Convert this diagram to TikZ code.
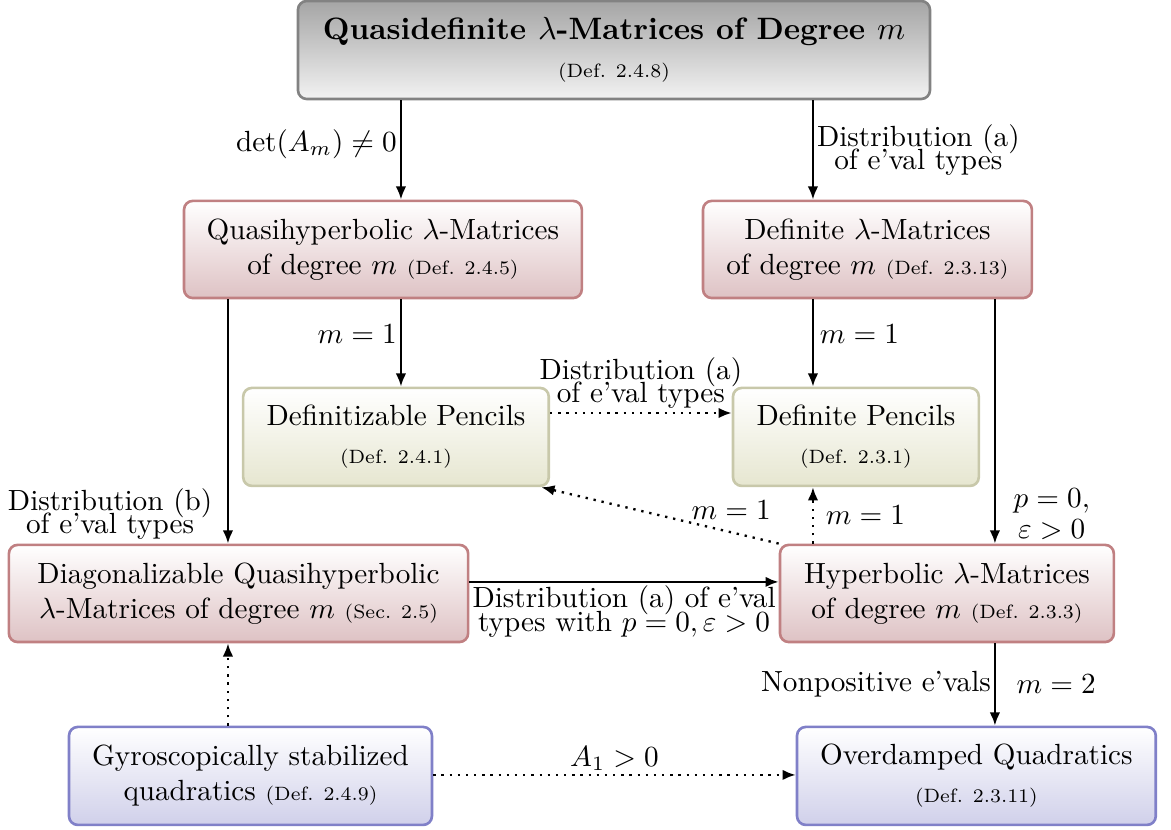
\documentclass[tikz,border=0pt]{standalone}
\usepackage{amsmath}
\usepackage{amssymb}
\usetikzlibrary{arrows.meta, positioning, calc}
\definecolor{qdborder}{RGB}{130,130,130}
\definecolor{qdtop}{RGB}{165,165,165}
\definecolor{hyborder}{RGB}{192,128,130}
\definecolor{hyfill}{RGB}{222,194,196}
\definecolor{pcborder}{RGB}{200,200,170}
\definecolor{pcfill}{RGB}{230,230,208}
\definecolor{quborder}{RGB}{128,128,200}
\definecolor{qufill}{RGB}{208,208,234}
\newcommand{\defref}[1]{{\fontsize{6.6}{8}\selectfont(#1)}}

\begin{document}
\begin{tikzpicture}[
  box/.style={rectangle, rounded corners=3pt, line width=0.9pt, align=center,
              minimum height=1.17cm, inner sep=2pt},
  topbox/.style={box, draw=qdborder, top color=qdtop, bottom color=white!95!black},
  redbox/.style={box, draw=hyborder, top color=white, bottom color=hyfill},
  olivebox/.style={box, draw=pcborder, top color=white, bottom color=pcfill},
  bluebox/.style={box, draw=quborder, top color=white, bottom color=qufill},
  arrow/.style={-{Latex[length=4.5pt,width=3.6pt]}, thick},
  dotarrow/.style={arrow, dotted},
  lbl/.style={inner sep=1pt, align=center},
]
  \useasboundingbox (0,0) rectangle (14.10,-9.99);

  % boxes
  \node[topbox, minimum width=7.61cm, minimum height=1.18cm] (qd) at (7.393,-0.602)
    {{\fontsize{10.6}{13}\selectfont\bfseries Quasidefinite $\lambda$-Matrices of Degree $m$}\\[1pt] \defref{Def. 2.4.8}};
  \node[redbox, minimum width=4.79cm] (qh) at (4.611,-3.004)
    {Quasihyperbolic $\lambda$-Matrices\\ of degree $m$ \defref{Def. 2.4.5}};
  \node[redbox, minimum width=3.96cm] (dl) at (10.445,-3.004)
    {Definite $\lambda$-Matrices\\ of degree $m$ \defref{Def. 2.3.13}};
  \node[olivebox, minimum width=3.68cm, minimum height=1.18cm] (dz) at (4.768,-5.261)
    {Definitizable Pencils\\[1pt] \defref{Def. 2.4.1}};
  \node[olivebox, minimum width=2.96cm, minimum height=1.18cm] (dp) at (10.306,-5.261)
    {Definite Pencils\\[1pt] \defref{Def. 2.3.1}};
  \node[redbox, minimum width=5.53cm] (dg) at (2.872,-7.146)
    {Diagonalizable Quasihyperbolic\\ $\lambda$-Matrices of degree $m$ \defref{Sec. 2.5}};
  \node[redbox, minimum width=4.02cm] (hy) at (11.402,-7.146)
    {Hyperbolic $\lambda$-Matrices\\ of degree $m$ \defref{Def. 2.3.3}};
  \node[bluebox, minimum width=4.37cm, minimum height=1.18cm] (gy) at (3.016,-9.343)
    {Gyroscopically stabilized\\ quadratics \defref{Def. 2.4.9}};
  \node[bluebox, minimum width=4.32cm, minimum height=1.18cm] (od) at (11.757,-9.343)
    {Overdamped Quadratics\\[1pt] \defref{Def. 2.3.11}};

  % arrow lines
  \coordinate (xa) at (4.828,0);
  \coordinate (xb) at (9.789,0);
  \coordinate (xc) at (2.745,0);
  \coordinate (xd) at (11.980,0);

  \draw[arrow] (qd.south -| xa) -- node[lbl, left, yshift=2pt]{$\det(A_m)\neq 0$} (qh.north -| xa);
  \draw[arrow] (qd.south -| xb) -- node[lbl, right]{Distribution (a)\\[-4pt]of e'val types} (dl.north -| xb);
  \draw[arrow] (qh.south -| xa) -- node[lbl, left, yshift=3pt]{$m=1$} (dz.north -| xa);
  \draw[arrow] (dl.south -| xb) -- node[lbl, right, xshift=1pt, yshift=3pt]{$m=1$} (dp.north -| xb);
  \draw[arrow] (qh.south -| xc) -- node[lbl, pos=0.88, left, xshift=-4pt]{Distribution (b)\\[-4pt]of e'val types} (dg.north -| xc);
  \draw[arrow] (dl.south -| xd) -- node[lbl, pos=0.88, right, xshift=5pt]{$p=0,$\\[-1.5pt]$\varepsilon>0$} (hy.north -| xd);
  \draw[dotarrow] (dz.east |- 0,-4.973) -- node[lbl, above]{Distribution (a)\\[-4pt]of e'val types} (dp.west |- 0,-4.973);
  \draw[dotarrow] (hy.north west) -- node[lbl, pos=0.2, above, yshift=3pt]{$m=1$} ([xshift=-3pt]dz.south east);
  \draw[dotarrow] (hy.north -| xb) -- node[lbl, right, xshift=3pt]{$m=1$} (dp.south -| xb);
  \draw[arrow] (dg.east |- 0,-7.007) -- node[lbl, below]{Distribution (a) of e'val\\[-4pt]types with $p=0,\varepsilon>0$} (hy.west |- 0,-7.007);
  \draw[arrow] (hy.south -| xd) -- node[lbl, left]{Nonpositive e'vals} node[lbl, right, xshift=6pt]{$m=2$} (od.north -| xd);
  \draw[dotarrow] (gy.north -| xc) -- (dg.south -| xc);
  \draw[dotarrow] (gy.east |- 0,-9.331) -- node[lbl, above]{$A_1>0$} (od.west |- 0,-9.331);
\end{tikzpicture}
\end{document}
